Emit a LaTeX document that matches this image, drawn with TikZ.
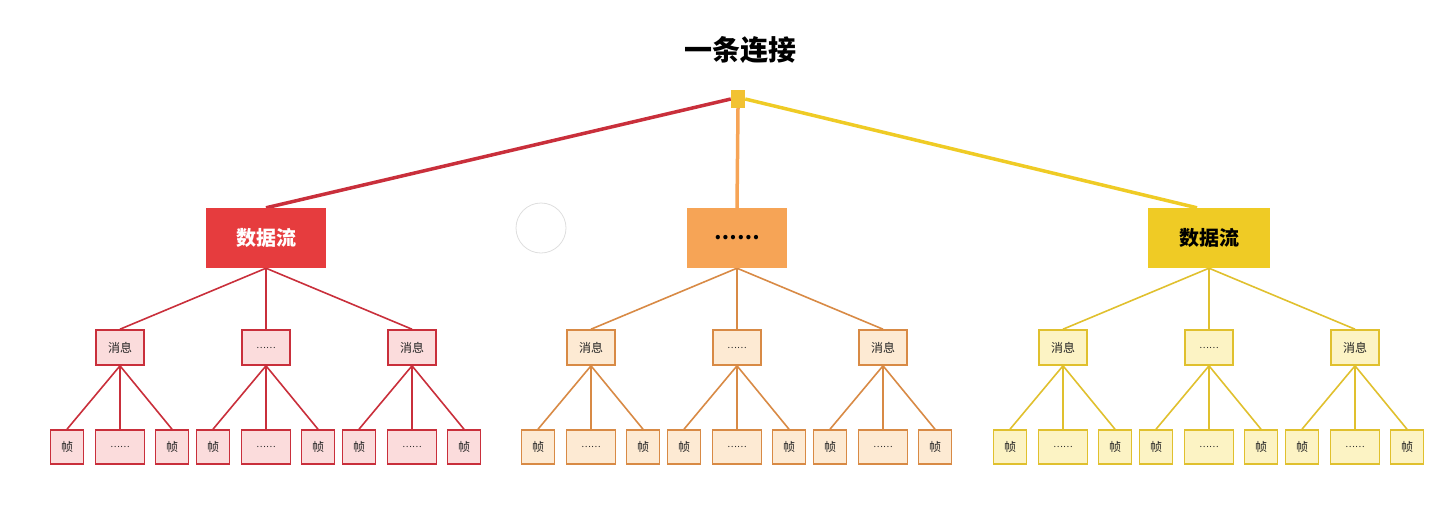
\documentclass[tikz,border=0pt]{standalone}
\usepackage{fontspec}
\newfontfamily\cjk{Noto Sans CJK SC}
\usetikzlibrary{backgrounds}
\definecolor{rA}{HTML}{E63C3E}
\definecolor{rL}{HTML}{C92F3B}
\definecolor{rP}{HTML}{FBDCDC}
\definecolor{oA}{HTML}{F6A456}
\definecolor{oL}{HTML}{D88A45}
\definecolor{oP}{HTML}{FDEAD3}
\definecolor{yA}{HTML}{EFCB25}
\definecolor{yL}{HTML}{E0C02E}
\definecolor{yP}{HTML}{FCF3C4}
\definecolor{rootc}{HTML}{F2C233}
\definecolor{txt}{HTML}{222222}
\tikzset{
  lvone/.style={draw=none, minimum width=120pt, minimum height=60pt, inner sep=0pt, font=\cjk\bfseries\fontsize{20}{20}\selectfont},
  lvtwo/.style={line width=1.6pt, minimum width=48pt, minimum height=35pt, inner sep=0pt, text=txt, font=\cjk\fontsize{12}{12}\selectfont},
  lvsmall/.style={line width=1.6pt, minimum width=33pt, minimum height=34pt, inner sep=0pt, text=txt, font=\cjk\fontsize{12}{12}\selectfont},
  lvwide/.style={line width=1.6pt, minimum width=49pt, minimum height=34pt, inner sep=0pt, text=txt, font=\cjk\fontsize{9}{9}\selectfont},
  link/.style={line width=1.6pt},
  toplink/.style={line width=3.5pt},
}
\begin{document}
\begin{tikzpicture}[x=1pt,y=-1pt]
\useasboundingbox (0,0) rectangle (1432,512);
\node[font=\cjk\bfseries\fontsize{28}{28}\selectfont, text=black] (title) at (740,50) {一条连接};
\node[fill=rootc, minimum width=14pt, minimum height=18pt, inner sep=0pt] (root) at (738,99) {};
\node[draw=black!13, line width=0.8pt, circle, minimum size=50pt, inner sep=0pt] (ring) at (541,228) {};
% level one
\node[lvone, fill=rA, text=white] (s1) at (266,238) {数据流};
\node[lvone, fill=oA, text=black, minimum width=100pt] (s2) at (737,238) {……};
\node[lvone, fill=yA, text=black, minimum width=122pt] (s3) at (1209,238) {数据流};
\begin{scope}[on background layer]
\draw[toplink, rL] (root.west) -- (s1.north);
\draw[toplink, oA] (root.south) -- (s2.north);
\draw[toplink, yA] (root.east) -- ([xshift=-12pt]s3.north);
\end{scope}
% groups
\foreach \g/\gx/\bc/\fc in {1/266/rL/rP, 2/737/oL/oP, 3/1209/yL/yP}{
  \foreach \m/\dx/\lab in {1/-146/消息, 2/0/……, 3/146/消息}{
    \pgfmathsetmacro{\mx}{\gx+\dx}
    \ifnum\m=2
      \node[lvtwo, draw=\bc, fill=\fc, font=\cjk\fontsize{9}{9}\selectfont] (m\g\m) at (\mx,347.5) {\lab};
    \else
      \node[lvtwo, draw=\bc, fill=\fc] (m\g\m) at (\mx,347.5) {\lab};
    \fi
    \begin{scope}[on background layer]
      \draw[link, \bc] (s\g.south) -- (m\g\m.north);
    \end{scope}
    \node[lvsmall, draw=\bc, fill=\fc] (f\g\m1) at (\mx-53,447) {帧};
    \node[lvwide, draw=\bc, fill=\fc] (f\g\m2) at (\mx,447) {……};
    \node[lvsmall, draw=\bc, fill=\fc] (f\g\m3) at (\mx+52,447) {帧};
    \begin{scope}[on background layer]
      \draw[link, \bc] (m\g\m.south) -- (f\g\m1.north);
      \draw[link, \bc] (m\g\m.south) -- (f\g\m2.north);
      \draw[link, \bc] (m\g\m.south) -- (f\g\m3.north);
    \end{scope}
  }
}
\end{tikzpicture}
\end{document}
